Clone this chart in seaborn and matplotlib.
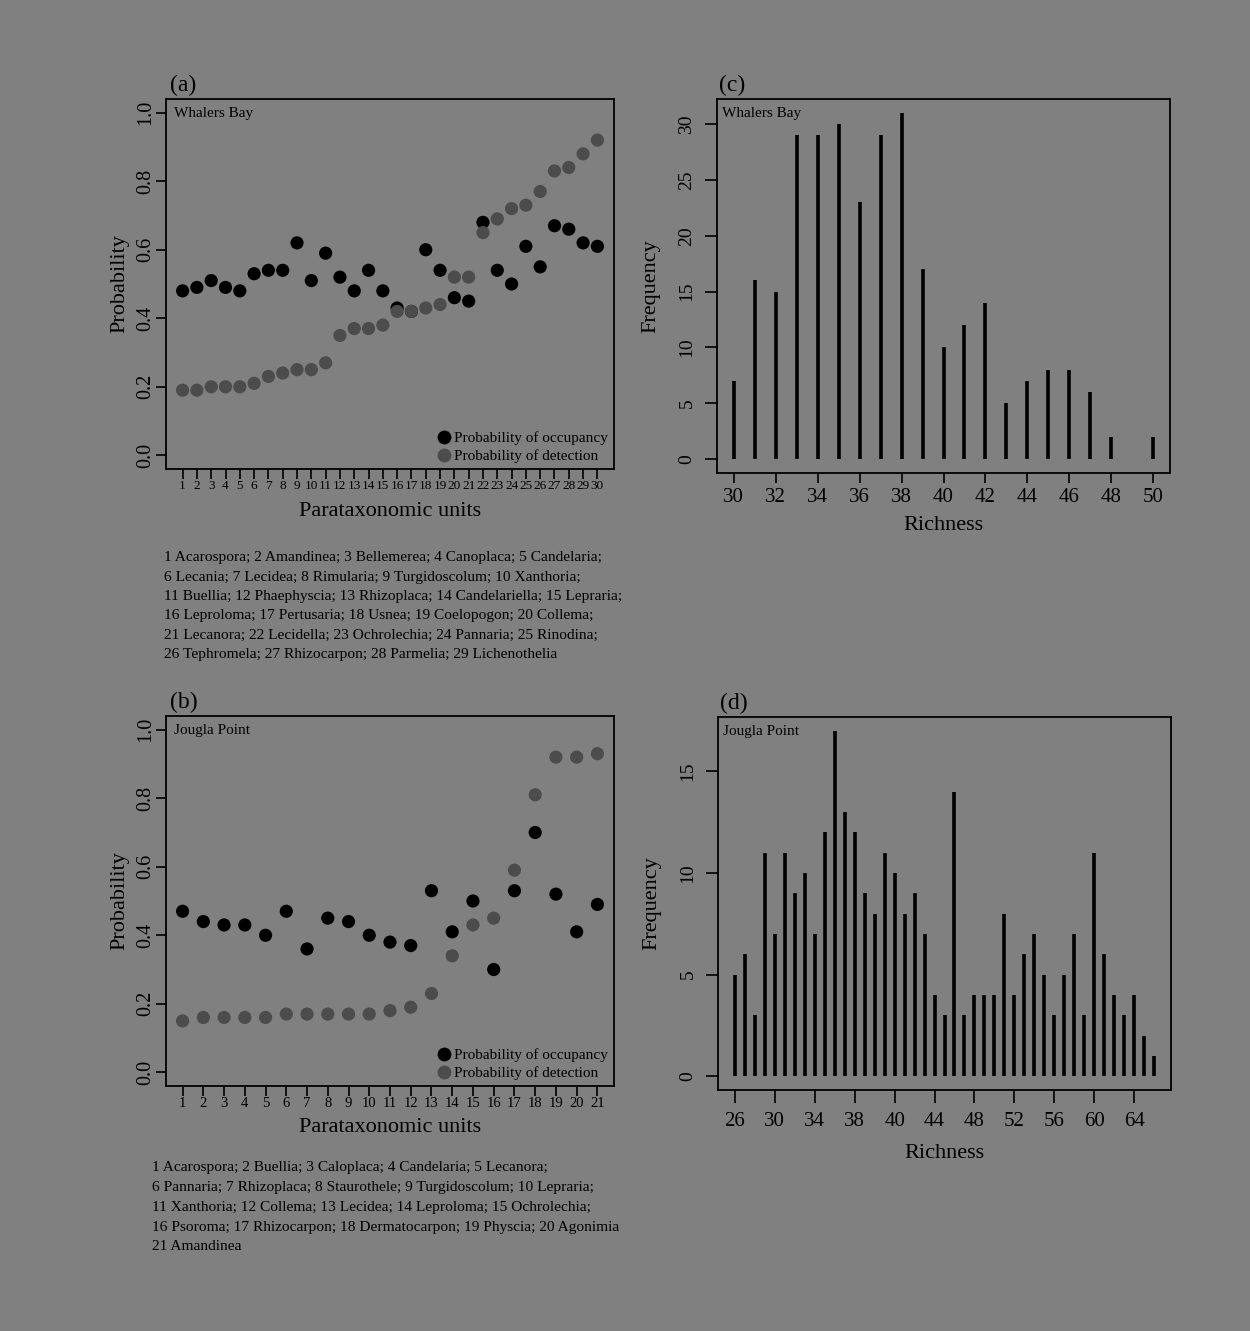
import numpy as np
import pandas as pd
import matplotlib
matplotlib.use('Agg')
import matplotlib.pyplot as plt
import seaborn as sns

# dados
unidades_a = list(range(1, 31))
ocupacao_a = [0.48, 0.49, 0.51, 0.49, 0.48, 0.53, 0.54, 0.54, 0.62, 0.51,
              0.59, 0.52, 0.48, 0.54, 0.48, 0.43, 0.42, 0.60, 0.54, 0.46,
              0.45, 0.68, 0.54, 0.50, 0.61, 0.55, 0.67, 0.66, 0.62, 0.61]
deteccao_a = [0.19, 0.19, 0.20, 0.20, 0.20, 0.21, 0.23, 0.24, 0.25, 0.25,
              0.27, 0.35, 0.37, 0.37, 0.38, 0.42, 0.42, 0.43, 0.44, 0.52,
              0.52, 0.65, 0.69, 0.72, 0.73, 0.77, 0.83, 0.84, 0.88, 0.92]

unidades_b = list(range(1, 22))
ocupacao_b = [0.47, 0.44, 0.43, 0.43, 0.40, 0.47, 0.36, 0.45, 0.44, 0.40,
              0.38, 0.37, 0.53, 0.41, 0.50, 0.30, 0.53, 0.70, 0.52, 0.41, 0.49]
deteccao_b = [0.15, 0.16, 0.16, 0.16, 0.16, 0.17, 0.17, 0.17, 0.17, 0.17,
              0.18, 0.19, 0.23, 0.34, 0.43, 0.45, 0.59, 0.81, 0.92, 0.92, 0.93]

riqueza_c = list(range(30, 49)) + [50]
freq_c = [7, 16, 15, 29, 29, 30, 23, 29, 31, 17, 10, 12, 14, 5, 7, 8, 8, 6, 2, 2]

freq_d = [5, 6, 3, 11, 7, 11, 9, 10, 7, 12, 17, 13, 12, 9, 8, 11, 10, 8, 9, 7,
          4, 3, 14, 3, 4, 4, 4, 8, 4, 6, 7, 5, 3, 5, 7, 3, 11, 6, 4, 3, 4, 2, 1]
rotulos_d = ['26', '30', '34', '38', '40', '44', '48', '52', '56', '60', '64']

legenda_a = [
    '1 Acarospora; 2 Amandinea; 3 Bellemerea; 4 Canoplaca; 5 Candelaria;',
    '6 Lecania; 7 Lecidea; 8 Rimularia; 9 Turgidoscolum; 10 Xanthoria;',
    '11 Buellia; 12 Phaephyscia; 13 Rhizoplaca; 14 Candelariella; 15 Lepraria;',
    '16 Leproloma; 17 Pertusaria; 18 Usnea; 19 Coelopogon; 20 Collema;',
    '21 Lecanora; 22 Lecidella; 23 Ochrolechia; 24 Pannaria; 25 Rinodina;',
    '26 Tephromela; 27 Rhizocarpon; 28 Parmelia; 29 Lichenothelia',
]
legenda_b = [
    '1 Acarospora; 2 Buellia; 3 Caloplaca; 4 Candelaria; 5 Lecanora;',
    '6 Pannaria; 7 Rhizoplaca; 8 Staurothele; 9 Turgidoscolum; 10 Lepraria;',
    '11 Xanthoria; 12 Collema; 13 Lecidea; 14 Leproloma; 15 Ochrolechia;',
    '16 Psoroma; 17 Rhizocarpon; 18 Dermatocarpon; 19 Physcia; 20 Agonimia',
    '21 Amandinea',
]

# cores
fundo = '#808080'
cinza_det = '#4c4c4c'
preto = '#000000'

sns.set_theme(style='ticks')
plt.rcParams['font.family'] = ['Liberation Serif', 'DejaVu Serif']
plt.rcParams.update({
    'figure.facecolor': fundo, 'axes.facecolor': fundo,
    'axes.edgecolor': preto, 'axes.linewidth': 1.3,
    'xtick.color': preto, 'ytick.color': preto,
    'text.color': preto, 'axes.labelcolor': preto,
})

W, H = 1250, 1331
fig = plt.figure(figsize=(W / 100, H / 100), dpi=100, facecolor=fundo)


def caixa(esq, topo, dir, base):
    return fig.add_axes([esq / W, 1 - base / H, (dir - esq) / W, (base - topo) / H])


def painel_prob(ax, unidades, occ, det, local, letra, tam_xtick, pad_xlabel):
    n = len(unidades)
    df = pd.DataFrame({
        'unit': unidades * 2,
        'prob': occ + det,
        'tipo': ['Probability of occupancy'] * n + ['Probability of detection'] * n,
    })
    sns.scatterplot(data=df, x='unit', y='prob', hue='tipo',
                    palette={'Probability of occupancy': preto,
                             'Probability of detection': cinza_det},
                    s=90, edgecolor='none', linewidth=0, ax=ax, zorder=3)
    folga = (n - 1) * 0.04
    ax.set_xlim(1 - folga, n + folga)
    ax.set_ylim(-0.04, 1.04)
    ax.set_xticks(unidades)
    ax.set_xticklabels([str(u) for u in unidades], fontsize=tam_xtick)
    ax.set_yticks([0, 0.2, 0.4, 0.6, 0.8, 1.0])
    ax.set_yticklabels(['0.0', '0.2', '0.4', '0.6', '0.8', '1.0'],
                       fontsize=14.5, rotation=90, va='center')
    ax.tick_params(axis='both', length=7, width=1.2, direction='out')
    ax.tick_params(axis='x', pad=1)
    ax.tick_params(axis='y', pad=1)
    ax.set_xlabel('Parataxonomic units', fontsize=16, labelpad=pad_xlabel)
    ax.set_ylabel('Probability', fontsize=16, labelpad=5)
    h, l = ax.get_legend_handles_labels()
    ax.legend(h, l, loc='lower right', frameon=False, fontsize=11,
              handletextpad=-0.35, borderaxespad=0.2, labelspacing=0.25,
              borderpad=0.2, markerscale=1.05)
    ax.text(0.018, 0.978, local, transform=ax.transAxes, ha='left', va='top', fontsize=11)
    ax.text(0.01, 1.008, letra, transform=ax.transAxes, ha='left', va='bottom', fontsize=17)
    for sp in ax.spines.values():
        sp.set_visible(True)


def painel_freq(ax, x, freq, local, letra, comp_xtick, pad_tick, pad_xlabel):
    ax.vlines(x, 0, freq, color=preto, linewidth=2.6)
    ax.set_ylabel('Frequency', fontsize=16, labelpad=13)
    ax.set_xlabel('Richness', fontsize=16, labelpad=pad_xlabel)
    ax.tick_params(axis='both', width=1.2, direction='out')
    ax.tick_params(axis='x', labelsize=15, length=comp_xtick, pad=pad_tick)
    ax.tick_params(axis='y', labelsize=14, length=8.5, pad=7)
    ax.text(0.012, 0.978, local, transform=ax.transAxes, ha='left', va='top', fontsize=11)
    ax.text(0.005, 1.008, letra, transform=ax.transAxes, ha='left', va='bottom', fontsize=17)
    for sp in ax.spines.values():
        sp.set_visible(True)


# (a) Whalers Bay
ax_a = caixa(166, 99, 614, 469)
painel_prob(ax_a, unidades_a, ocupacao_a, deteccao_a, 'Whalers Bay', '(a)', 9.5, 7)

# (b) Jougla Point
ax_b = caixa(166, 716, 614, 1086)
painel_prob(ax_b, unidades_b, ocupacao_b, deteccao_b, 'Jougla Point', '(b)', 10.5, 6)

# (c) riqueza Whalers Bay
ax_c = caixa(717, 99, 1170, 473)
painel_freq(ax_c, riqueza_c, freq_c, 'Whalers Bay', '(c)', 7, 4, 6)
ax_c.set_xlim(29.2, 50.8)
ax_c.set_ylim(-1.24, 32.24)
ax_c.set_xticks(range(30, 51, 2))
ax_c.set_yticks(range(0, 31, 5))
for t in ax_c.get_yticklabels():
    t.set_rotation(90)
    t.set_va('center')

# (d) riqueza Jougla Point
ax_d = caixa(718, 717, 1171, 1090)
pos_d = np.arange(len(freq_d))
painel_freq(ax_d, pos_d, freq_d, 'Jougla Point', '(d)', 9.5, 6.5, 9)
ax_d.set_xlim(-0.04 * (len(freq_d) - 1), (len(freq_d) - 1) * 1.04)
ax_d.set_ylim(-0.68, 17.68)
ax_d.set_xticks(pos_d[::4])
ax_d.set_xticklabels(rotulos_d)
ax_d.set_yticks([0, 5, 10, 15])
for t in ax_d.get_yticklabels():
    t.set_rotation(90)
    t.set_va('center')

# listas de generos
for i, linha in enumerate(legenda_a):
    fig.text(164 / W, 1 - (558 + i * 19.3) / H, linha, ha='left', va='center', fontsize=11.1)
for i, linha in enumerate(legenda_b):
    fig.text(152 / W, 1 - (1168 + i * 19.7) / H, linha, ha='left', va='center', fontsize=11.1)

fig.savefig('out.png', dpi=100, facecolor=fundo)
